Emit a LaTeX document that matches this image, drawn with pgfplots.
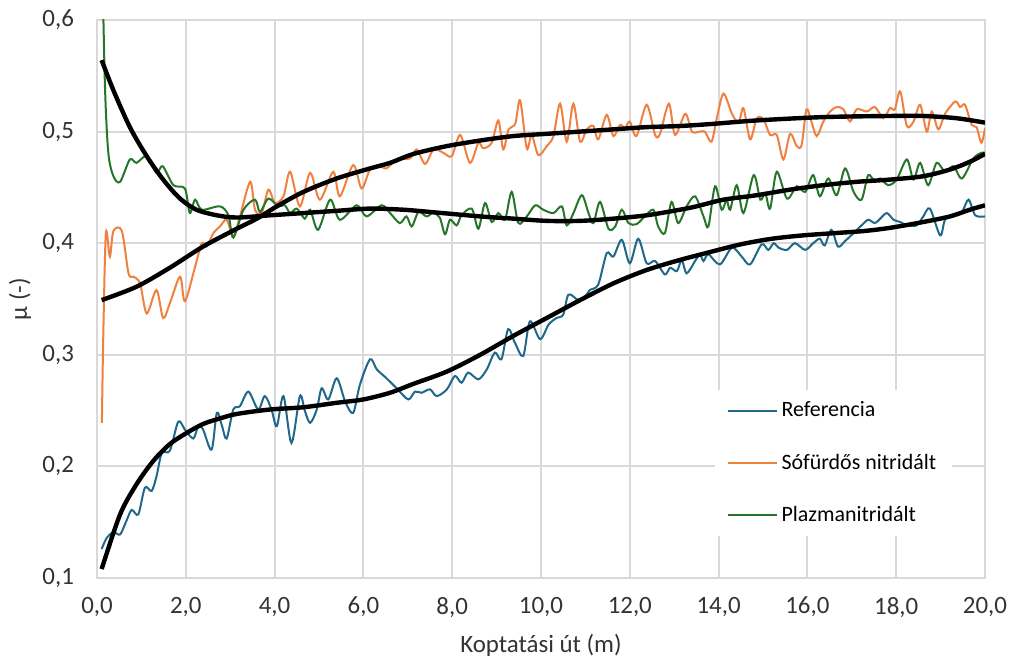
\documentclass[border=0pt]{standalone}
\usepackage{fontspec}
\setmainfont{Carlito}
\usepackage{pgfplots}
\pgfplotsset{compat=1.18}
\usetikzlibrary{calc}

\definecolor{cref}{RGB}{31,104,138}
\definecolor{csalt}{RGB}{240,128,64}
\definecolor{cplasma}{RGB}{38,118,42}
\definecolor{cgrid}{RGB}{217,217,217}

\begin{document}
\begin{tikzpicture}
\begin{axis}[
    scale only axis,
    width=444bp, height=279bp,
    xmin=0, xmax=20, ymin=0.1, ymax=0.6,
    xtick={0,2,...,20},
    ytick={0.1,0.2,0.3,0.4,0.5,0.6},
    grid=major,
    major grid style={cgrid, line width=1bp},
    axis line style={cgrid, line width=1bp},
    major tick length=0pt,
    tick label style={font=\fontsize{12.5}{15}\selectfont, text=black!80},
    /pgf/number format/assume math mode=true,
    /pgf/number format/fixed,
    /pgf/number format/fixed zerofill,
    /pgf/number format/precision=1,
    /pgf/number format/use comma,
    x tick label style={yshift=-6bp},
    y tick label style={xshift=-8bp},
    every axis x label/.style={at={(rel axis cs:0.5,0)}, anchor=center, yshift=-33.5bp,
        font=\fontsize{12.5}{15}\selectfont, text=black!80},
    every axis y label/.style={at={(rel axis cs:0,0.5)}, anchor=center, xshift=-38.5bp, rotate=90,
        font=\fontsize{12.5}{15}\selectfont, text=black!80},
    xlabel={Koptatási út (m)},
    ylabel={μ (-)},
    legend image code/.code={\draw[#1] (0bp,0bp) -- (24.5bp,0bp);},
    legend cell align=left,
    legend style={
        at={(0.695,0.338)}, anchor=north west,
        draw=none, fill=white,
        font=\fontsize{11}{13}\selectfont,
        row sep=13bp,
        inner xsep=6bp, inner ysep=4bp,
        /tikz/every even column/.append style={column sep=1bp},
    },
]
\coordinate (sw) at (rel axis cs:0,0);
\coordinate (ne) at (rel axis cs:1,1);

\addplot[cref, line width=1bp, smooth, tension=0.5] coordinates {
(0.105,0.126) (0.22,0.136) (0.37,0.141) (0.52,0.139) (0.65,0.150) (0.78,0.161) (0.93,0.157) (1.08,0.181) (1.23,0.178) (1.34,0.191) (1.46,0.212) (1.64,0.214) (1.83,0.240) (1.98,0.233) (2.17,0.225) (2.28,0.236) (2.39,0.233) (2.58,0.215) (2.70,0.248) (2.81,0.237) (2.92,0.225) (3.07,0.251) (3.22,0.254) (3.41,0.267) (3.63,0.251) (3.78,0.263) (3.93,0.251) (4.05,0.236) (4.20,0.263) (4.38,0.221) (4.57,0.263) (4.68,0.250) (4.80,0.239) (4.95,0.251) (5.06,0.270) (5.21,0.260) (5.40,0.279) (5.59,0.258) (5.77,0.248) (5.92,0.273) (6.15,0.296) (6.30,0.287) (6.52,0.279) (6.75,0.270) (7.01,0.260) (7.16,0.267) (7.31,0.266) (7.50,0.269) (7.65,0.263) (7.88,0.269) (8.06,0.281) (8.21,0.275) (8.36,0.284) (8.59,0.278) (8.78,0.287) (8.96,0.302) (9.11,0.296) (9.26,0.323) (9.41,0.311) (9.60,0.299) (9.75,0.330) (9.98,0.314) (10.17,0.327) (10.35,0.333) (10.50,0.336) (10.62,0.354) (10.84,0.349) (10.99,0.352) (11.10,0.358) (11.29,0.363) (11.48,0.391) (11.63,0.388) (11.82,0.403) (12.00,0.382) (12.19,0.404) (12.38,0.382) (12.57,0.384) (12.79,0.372) (12.91,0.378) (13.06,0.375) (13.17,0.385) (13.28,0.373) (13.47,0.384) (13.58,0.390) (13.66,0.384) (13.77,0.390) (14.03,0.381) (14.30,0.396) (14.52,0.388) (14.71,0.381) (14.97,0.399) (15.12,0.394) (15.24,0.400) (15.35,0.396) (15.54,0.394) (15.72,0.400) (15.95,0.394) (16.13,0.400) (16.28,0.404) (16.39,0.398) (16.54,0.412) (16.69,0.397) (16.85,0.402) (17.04,0.409) (17.22,0.416) (17.37,0.421) (17.52,0.418) (17.64,0.422) (17.79,0.427) (17.94,0.421) (18.09,0.419) (18.24,0.416) (18.46,0.416) (18.61,0.424) (18.76,0.431) (18.99,0.407) (19.10,0.421) (19.29,0.425) (19.48,0.428) (19.63,0.439) (19.78,0.425) (20.00,0.424)
};
\addlegendentry{Referencia}

\addplot[csalt, line width=1bp, smooth, tension=0.5] coordinates {
(0.11,0.239) (0.14,0.314) (0.20,0.409) (0.29,0.388) (0.37,0.411) (0.56,0.411) (0.71,0.373) (0.82,0.370) (0.97,0.364) (1.12,0.337) (1.34,0.358) (1.49,0.333) (1.64,0.346) (1.87,0.370) (1.98,0.348) (2.21,0.379) (2.36,0.400) (2.47,0.397) (2.62,0.409) (2.77,0.415) (2.92,0.421) (3.07,0.406) (3.22,0.424) (3.45,0.455) (3.56,0.430) (3.71,0.427) (3.86,0.448) (4.01,0.436) (4.20,0.442) (4.35,0.464) (4.57,0.433) (4.80,0.463) (5.02,0.439) (5.32,0.464) (5.47,0.442) (5.77,0.470) (5.96,0.449) (6.15,0.466) (6.37,0.469) (6.52,0.467) (6.75,0.475) (7.05,0.476) (7.20,0.484) (7.39,0.471) (7.58,0.484) (7.80,0.481) (7.99,0.478) (8.18,0.497) (8.40,0.472) (8.59,0.490) (8.70,0.485) (8.89,0.490) (9.04,0.510) (9.15,0.484) (9.27,0.502) (9.42,0.507) (9.53,0.528) (9.68,0.485) (9.79,0.497) (9.94,0.479) (10.13,0.487) (10.28,0.496) (10.43,0.525) (10.58,0.491) (10.73,0.525) (10.88,0.491) (11.03,0.502) (11.18,0.505) (11.29,0.493) (11.48,0.515) (11.63,0.496) (11.78,0.506) (11.89,0.503) (12.00,0.509) (12.15,0.496) (12.38,0.524) (12.57,0.497) (12.68,0.498) (12.88,0.525) (13.02,0.497) (13.25,0.516) (13.40,0.500) (13.58,0.500) (13.69,0.500) (13.84,0.491) (13.96,0.512) (14.11,0.534) (14.30,0.516) (14.45,0.508) (14.56,0.521) (14.71,0.493) (14.86,0.512) (15.01,0.511) (15.16,0.497) (15.31,0.497) (15.46,0.475) (15.61,0.498) (15.76,0.487) (15.87,0.488) (15.98,0.520) (16.09,0.509) (16.21,0.496) (16.36,0.509) (16.51,0.518) (16.66,0.522) (16.81,0.520) (16.96,0.509) (17.11,0.520) (17.34,0.518) (17.52,0.522) (17.71,0.512) (17.86,0.521) (17.97,0.520) (18.09,0.536) (18.24,0.505) (18.39,0.509) (18.54,0.524) (18.69,0.500) (18.80,0.518) (18.95,0.502) (19.10,0.516) (19.33,0.527) (19.44,0.522) (19.55,0.524) (19.70,0.506) (19.81,0.504) (19.92,0.490) (20.00,0.503)
};
\addlegendentry{Sófürdős nitridált}

\addplot[cplasma, line width=1bp, smooth, tension=0.5] coordinates {
(0.12,0.650) (0.18,0.540) (0.255,0.481) (0.37,0.460) (0.52,0.455) (0.74,0.475) (0.89,0.472) (1.12,0.478) (1.34,0.463) (1.48,0.469) (1.72,0.452) (1.98,0.449) (2.09,0.427) (2.21,0.439) (2.36,0.430) (2.77,0.433) (2.96,0.425) (3.07,0.405) (3.30,0.430) (3.56,0.439) (3.67,0.428) (3.86,0.440) (4.08,0.433) (4.23,0.434) (4.35,0.427) (4.50,0.431) (4.68,0.422) (4.80,0.430) (4.98,0.412) (5.25,0.439) (5.47,0.421) (5.85,0.434) (6.07,0.424) (6.41,0.434) (6.60,0.427) (6.82,0.418) (6.97,0.424) (7.09,0.415) (7.24,0.428) (7.42,0.424) (7.57,0.427) (7.72,0.423) (7.84,0.408) (7.95,0.421) (8.10,0.416) (8.21,0.425) (8.44,0.431) (8.59,0.413) (8.74,0.436) (8.89,0.419) (9.04,0.427) (9.19,0.421) (9.34,0.446) (9.49,0.418) (9.68,0.424) (9.87,0.434) (10.05,0.430) (10.28,0.427) (10.47,0.433) (10.58,0.416) (10.73,0.427) (10.92,0.443) (11.07,0.427) (11.18,0.418) (11.33,0.437) (11.52,0.413) (11.67,0.415) (11.82,0.430) (11.97,0.418) (12.15,0.417) (12.34,0.424) (12.53,0.430) (12.64,0.415) (12.79,0.409) (12.94,0.437) (13.09,0.418) (13.28,0.433) (13.47,0.442) (13.66,0.424) (13.77,0.415) (13.92,0.451) (14.07,0.430) (14.18,0.439) (14.26,0.430) (14.41,0.452) (14.56,0.427) (14.79,0.461) (14.94,0.439) (15.05,0.445) (15.16,0.431) (15.31,0.464) (15.54,0.440) (15.76,0.451) (15.95,0.446) (16.13,0.461) (16.28,0.442) (16.47,0.458) (16.66,0.443) (16.85,0.467) (17.04,0.446) (17.22,0.439) (17.37,0.461) (17.52,0.455) (17.64,0.458) (17.82,0.452) (18.01,0.457) (18.24,0.475) (18.39,0.457) (18.54,0.472) (18.72,0.452) (18.91,0.472) (19.10,0.464) (19.29,0.469) (19.48,0.458) (19.74,0.476) (19.92,0.481) (20.00,0.481)
};
\addlegendentry{Plazmanitridált}

% trend lines
\addplot[black, line width=2.2bp, smooth, forget plot] coordinates {
(0.105,0.108) (0.52,0.157) (0.89,0.184) (1.27,0.205) (1.64,0.220) (2.02,0.230) (2.39,0.238) (2.77,0.243) (3.15,0.247) (3.90,0.251) (4.65,0.253) (5.40,0.257) (6.00,0.260) (6.60,0.266) (7.13,0.274) (7.88,0.285) (8.63,0.300) (9.38,0.317) (10.13,0.333) (10.88,0.349) (11.63,0.364) (12.38,0.376) (13.13,0.385) (13.80,0.392) (14.50,0.399) (15.20,0.404) (15.90,0.407) (16.60,0.409) (17.30,0.411) (17.90,0.414) (18.61,0.419) (19.21,0.424) (19.66,0.430) (20.00,0.434)
};
\addplot[black, line width=2.2bp, smooth, forget plot] coordinates {
(0.105,0.349) (0.89,0.361) (1.64,0.378) (2.39,0.397) (3.15,0.413) (3.60,0.422) (4.05,0.433) (4.65,0.446) (5.40,0.458) (6.15,0.467) (6.60,0.472) (7.13,0.480) (7.88,0.487) (8.63,0.492) (9.38,0.496) (10.13,0.498) (10.88,0.500) (11.63,0.502) (12.38,0.504) (13.13,0.505) (13.90,0.507) (14.86,0.510) (16.36,0.513) (17.86,0.514) (18.61,0.514) (19.36,0.512) (20.00,0.508)
};
\addplot[black, line width=2.2bp, smooth, forget plot] coordinates {
(0.105,0.564) (0.37,0.537) (0.74,0.504) (1.12,0.478) (1.49,0.457) (1.87,0.440) (2.24,0.430) (2.70,0.425) (3.15,0.423) (3.90,0.425) (4.65,0.427) (5.40,0.429) (6.15,0.431) (6.90,0.430) (7.50,0.428) (8.63,0.424) (9.38,0.422) (10.13,0.420) (10.88,0.420) (11.63,0.422) (12.38,0.425) (13.13,0.430) (13.50,0.433) (14.11,0.439) (14.86,0.443) (15.61,0.448) (16.36,0.452) (17.11,0.455) (17.86,0.457) (18.61,0.460) (19.21,0.466) (19.66,0.473) (20.00,0.480)
};
\end{axis}
\pgfresetboundingbox
\path[use as bounding box] ($(sw)+(-48.5bp,-42bp)$) rectangle ($(ne)+(13bp,10bp)$);
\end{tikzpicture}
\end{document}
